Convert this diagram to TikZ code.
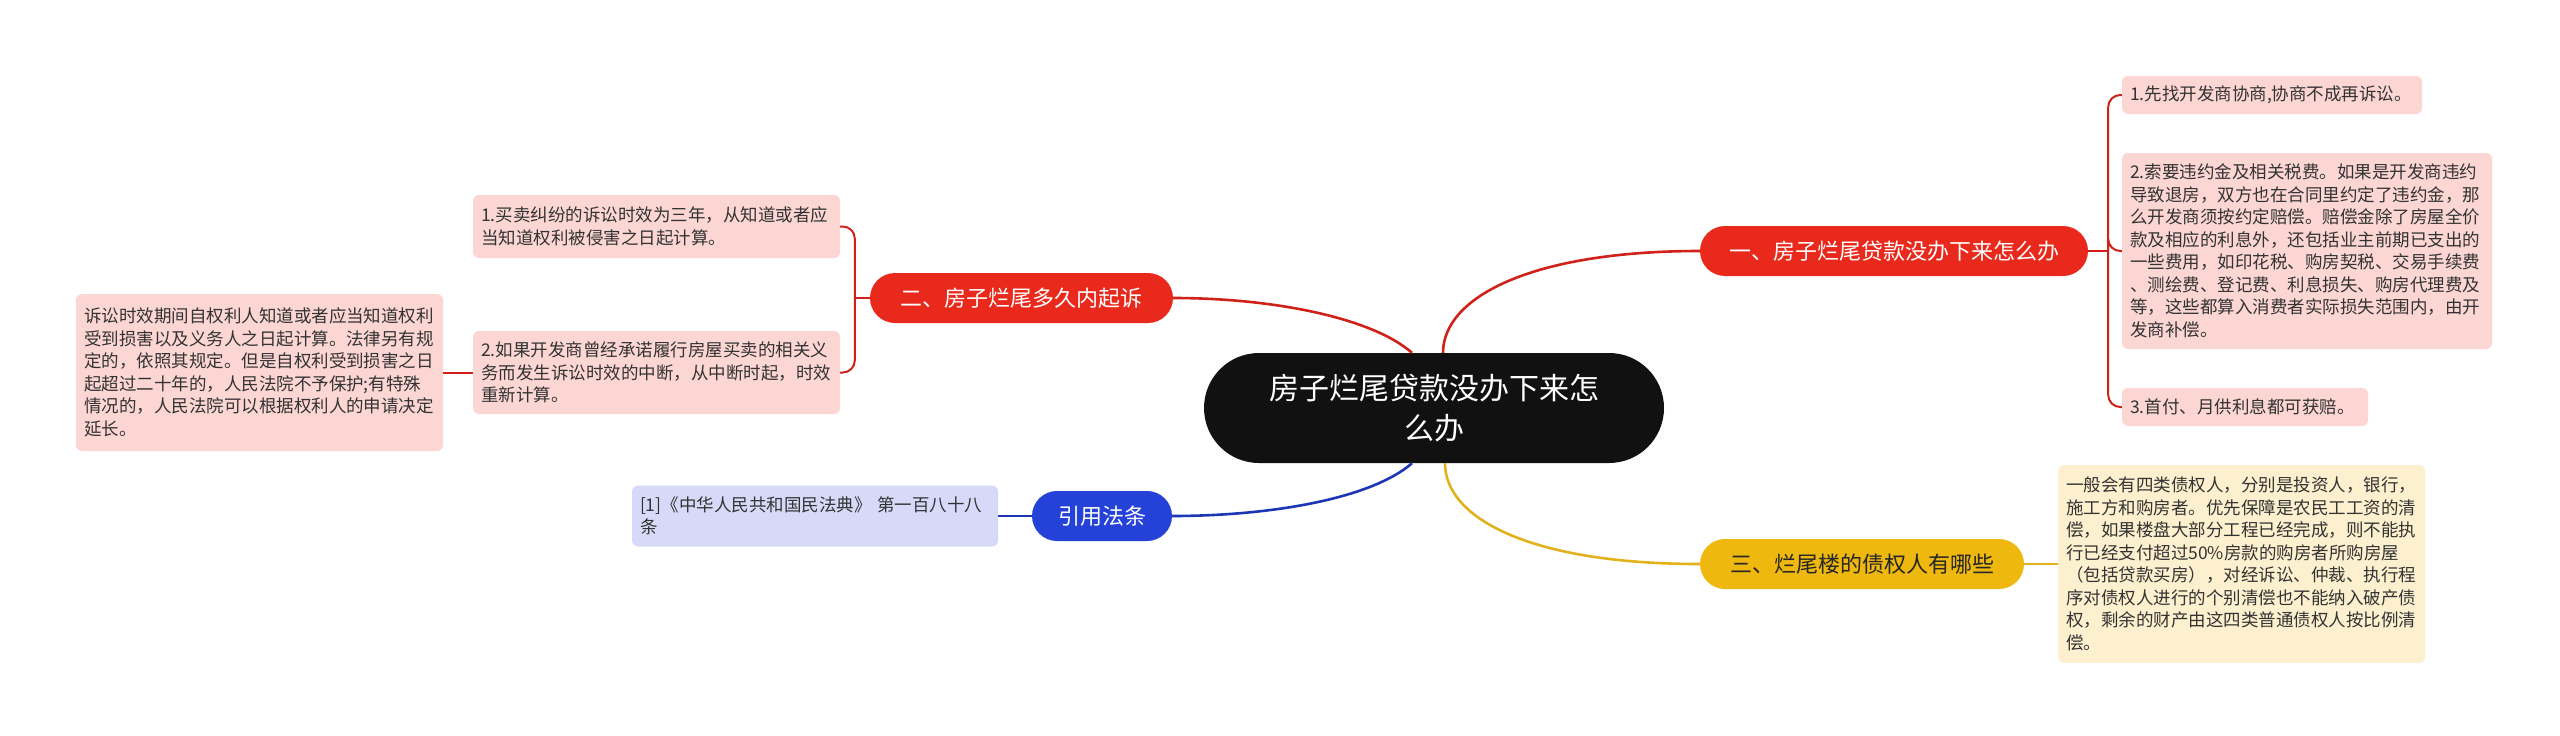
\documentclass[tikz,border=0pt]{standalone}
\usepackage{fontspec}
\setmainfont{Noto Sans CJK SC}
\usetikzlibrary{calc}
\usepackage{xcolor}

\definecolor{rootblack}{HTML}{111111}
\definecolor{redfill}{HTML}{E9291C}
\definecolor{redline}{HTML}{D0221A}
\definecolor{redleaf}{HTML}{FBD6D3}
\definecolor{yelfill}{HTML}{EEB80F}
\definecolor{yelline}{HTML}{E2B21C}
\definecolor{yelleaf}{HTML}{FCF0CE}
\definecolor{bluefill}{HTML}{2441D8}
\definecolor{blueline}{HTML}{1D36B5}
\definecolor{blueleaf}{HTML}{D6DAF8}
\definecolor{leaftext}{HTML}{333333}

\begin{document}
\begin{tikzpicture}[x=1pt,y=-1pt,
  rootnode/.style={fill=rootblack, text=white, rounded corners=55pt, minimum width=460pt, minimum height=110pt, align=center, font=\fontsize{30}{40}\selectfont},
  branchnode/.style={rounded corners=25pt, minimum height=50pt, inner sep=0pt, font=\fontsize{22}{26}\selectfont},
  leafnode/.style={rounded corners=6pt, inner xsep=8pt, inner ysep=0pt, align=left, text=leaftext, font=\fontsize{17.5}{22.5}\selectfont},
  mainline/.style={line width=2.6pt},
  subline/.style={line width=2pt, rounded corners=12pt}]

\useasboundingbox (0,0) rectangle (2560,736);

% Central topic
\node[rootnode] (root) at (1434,408) {房子烂尾贷款没办下来怎\\么办};

% Main branches
\node[branchnode, fill=redfill, text=white, minimum width=388pt] (b1) at (1894,251) {一、房子烂尾贷款没办下来怎么办};
\node[branchnode, fill=redfill, text=white, minimum width=303pt] (b2) at (1021.5,298) {二、房子烂尾多久内起诉};
\node[branchnode, fill=yelfill, text=black!85, minimum width=324pt] (b3) at (1862,564) {三、烂尾楼的债权人有哪些};
\node[branchnode, fill=bluefill, text=white, minimum width=140pt] (cite) at (1102,516) {引用法条};

% Leaves of branch 1
\node[leafnode, fill=redleaf, text width=284pt, minimum height=38pt] (l11) at (2272,95) {1.先找开发商协商,协商不成再诉讼。};
\node[leafnode, fill=redleaf, text width=354pt, minimum height=196pt] (l12) at (2307,251) {2.索要违约金及相关税费。如果是开发商违约\\导致退房，双方也在合同里约定了违约金，那\\么开发商须按约定赔偿。赔偿金除了房屋全价\\款及相应的利息外，还包括业主前期已支出的\\一些费用，如印花税、购房契税、交易手续费\\、测绘费、登记费、利息损失、购房代理费及\\等，这些都算入消费者实际损失范围内，由开\\发商补偿。};
\node[leafnode, fill=redleaf, text width=230pt, minimum height=38pt] (l13) at (2245,407) {3.首付、月供利息都可获赔。};

% Leaves of branch 2
\node[leafnode, fill=redleaf, text width=351pt, minimum height=63pt] (l21) at (656.5,226.5) {1.买卖纠纷的诉讼时效为三年，从知道或者应\\当知道权利被侵害之日起计算。};
\node[leafnode, fill=redleaf, text width=351pt, minimum height=83pt] (l22) at (656.5,372.5) {2.如果开发商曾经承诺履行房屋买卖的相关义\\务而发生诉讼时效的中断，从中断时起，时效\\重新计算。};
\node[leafnode, fill=redleaf, text width=351pt, minimum height=157pt] (l221) at (259.5,372.5) {诉讼时效期间自权利人知道或者应当知道权利\\受到损害以及义务人之日起计算。法律另有规\\定的，依照其规定。但是自权利受到损害之日\\起超过二十年的，人民法院不予保护;有特殊\\情况的，人民法院可以根据权利人的申请决定\\延长。};

% Leaf of branch 3
\node[leafnode, fill=yelleaf, text width=351pt, minimum height=198pt] (l3) at (2241.5,564) {一般会有四类债权人，分别是投资人，银行，\\施工方和购房者。优先保障是农民工工资的清\\偿，如果楼盘大部分工程已经完成，则不能执\\行已经支付超过50\%房款的购房者所购房屋\\（包括贷款买房），对经诉讼、仲裁、执行程\\序对债权人进行的个别清偿也不能纳入破产债\\权，剩余的财产由这四类普通债权人按比例清\\偿。};

% Citation leaf
\node[leafnode, fill=blueleaf, text width=350pt, minimum height=61pt] (law) at (815,516) {[1]《中华人民共和国民法典》 第一百八十八\\条};

% Root to branches
\draw[mainline, redline] ([xshift=9pt]root.north) .. controls +(0,-55) and +(-170,0) .. (b1.west);
\draw[mainline, redline] ([xshift=-22pt]root.north) .. controls +(-40,-35) and +(100,0) .. (b2.east);
\draw[mainline, yelline] ([xshift=11pt]root.south) .. controls +(0,55) and +(-170,0) .. (b3.west);
\draw[mainline, blueline] ([xshift=-22pt]root.south) .. controls +(-40,35) and +(100,0) .. (cite.east);

% Branches to leaves
\coordinate (j1) at ($(b1.east)+(20,0)$);
\coordinate (j2) at ($(b2.west)+(-15,0)$);
\draw[subline, redline] (b1.east) -- (j1);
\foreach \leafname in {l11,l12,l13} {
  \draw[subline, redline] (j1) |- (\leafname.west);
}
\draw[subline, redline] (b2.west) -- (j2);
\foreach \leafname in {l21,l22} {
  \draw[subline, redline] (j2) |- (\leafname.east);
}
\draw[subline, redline] (l22.west) -- (l221.east);
\draw[subline, yelline] (b3.east) -- (l3.west);
\draw[subline, blueline] (cite.west) -- (law.east);
\end{tikzpicture}
\end{document}
